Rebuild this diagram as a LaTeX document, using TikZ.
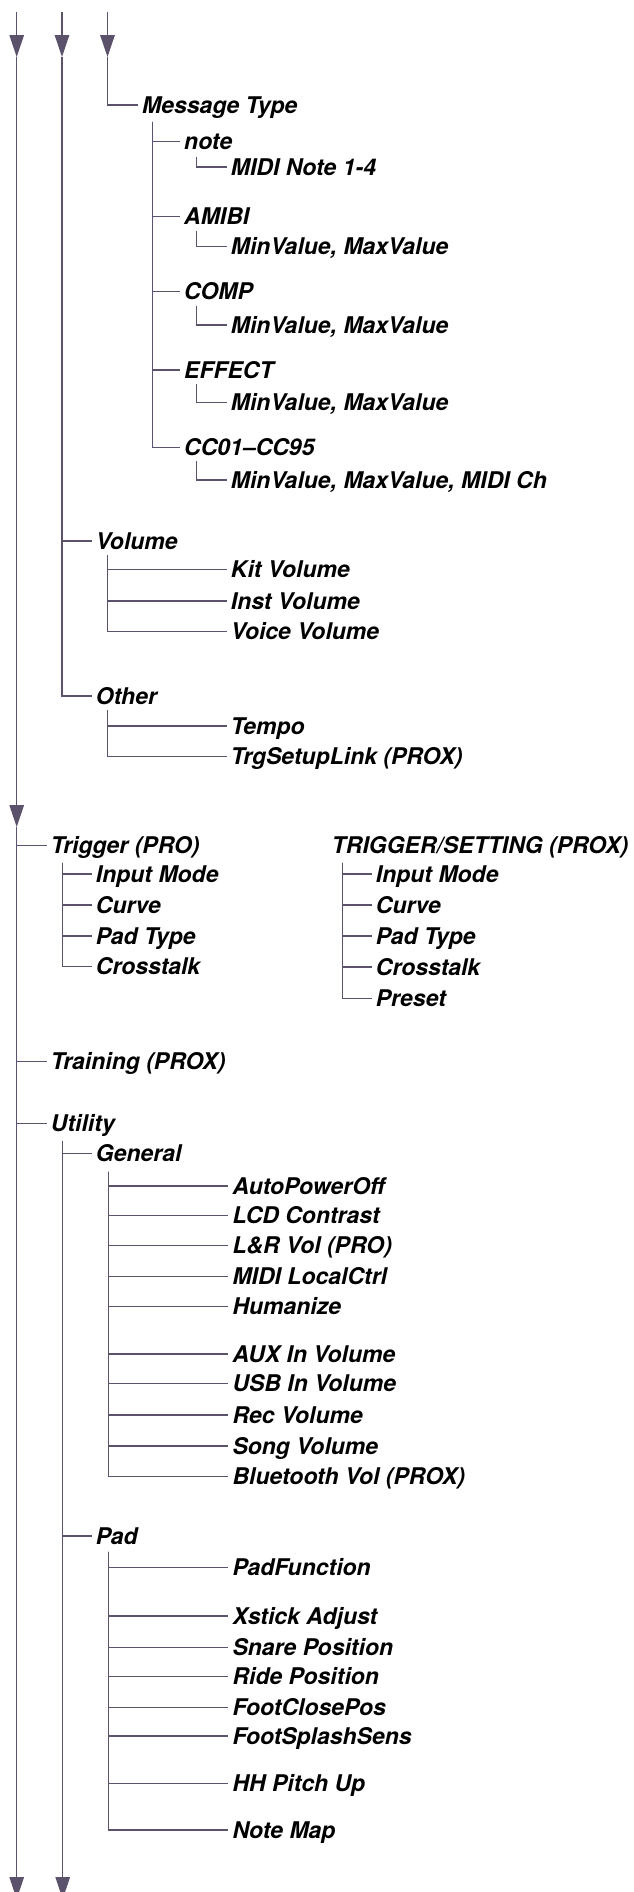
\documentclass[tikz,border=0pt]{standalone}
\usepackage{fontspec}
\setmainfont{TeX Gyre Heros}
\usetikzlibrary{arrows.meta}
\definecolor{lncol}{RGB}{92,82,108}
\tikzset{
  lbl/.style={anchor=west, inner xsep=4bp, inner ysep=0pt, text height=16.5bp, text depth=0pt,
              font=\fontsize{23bp}{27bp}\selectfont\bfseries\itshape},
  conn/.style={draw=lncol, line width=1.4bp},
  tri/.style={conn, -{Triangle[length=22bp,width=14.5bp]}}
}
\begin{document}
\begin{tikzpicture}[x=1bp,y=-1bp]
\useasboundingbox (0,0) rectangle (634,1892);

% ---------- main vertical lines with arrows ----------
\coordinate (a1s) at (16.7,12);  \coordinate (a1t) at (16.7,57);
\coordinate (a2s) at (62,12);    \coordinate (a2t) at (62,57);
\coordinate (a3s) at (107.5,12); \coordinate (a3t) at (107.5,57);
\coordinate (m1t) at (16.7,827);
\coordinate (b1t) at (16.7,1899);
\draw[tri] (a1s) -- (a1t);
\draw[tri] (a2s) -- (a2t);
\draw[tri] (a3s) -- (a3t);
\draw[tri] (a1t) -- (m1t);
\draw[tri] (m1t) -- (b1t);

% ---------- upper tree ----------
\node[lbl] (mt) at (138,105) {Message Type};
\draw[conn] (a3t) |- (mt.west);

\node[lbl] (note)   at (180,141.7) {note};
\node[lbl] (mnote)  at (226.7,167) {MIDI Note 1-4};
\node[lbl] (amibi)  at (180,216.7) {AMIBI};
\node[lbl] (mv1)    at (226.7,246.7) {MinValue, MaxValue};
\node[lbl] (comp)   at (180,291.7) {COMP};
\node[lbl] (mv2)    at (226.7,325) {MinValue, MaxValue};
\node[lbl] (effect) at (180,370) {EFFECT};
\node[lbl] (mv3)    at (226.7,402.7) {MinValue, MaxValue};
\node[lbl] (cc)     at (180,447.3) {CC01\textendash CC95};
\node[lbl] (mv4)    at (226.7,480) {MinValue, MaxValue, MIDI Ch};

\coordinate (mtv) at (152.7,121.7);
\draw[conn] (mtv) |- (note.west);
\draw[conn] (mtv) |- (amibi.west);
\draw[conn] (mtv) |- (comp.west);
\draw[conn] (mtv) |- (effect.west);
\draw[conn] (mtv) |- (cc.west);

\coordinate (nv) at (196.7,156.7);  \draw[conn] (nv) |- (mnote.west);
\coordinate (av) at (196.7,230.7);  \draw[conn] (av) |- (mv1.west);
\coordinate (cv) at (196.7,305.7);  \draw[conn] (cv) |- (mv2.west);
\coordinate (ev) at (196.7,384);    \draw[conn] (ev) |- (mv3.west);
\coordinate (ccv) at (196.7,461.3); \draw[conn] (ccv) |- (mv4.west);

\node[lbl] (vol)   at (91.7,541) {Volume};
\node[lbl] (kit)   at (226.7,569.3) {Kit Volume};
\node[lbl] (inst)  at (226.7,601) {Inst Volume};
\node[lbl] (voice) at (226.7,631.7) {Voice Volume};
\node[lbl] (other) at (91.7,696) {Other};
\node[lbl] (tempo) at (226.7,726) {Tempo};
\node[lbl] (trgl)  at (226.7,756.7) {TrgSetupLink (PROX)};

\draw[conn] (a2t) |- (vol.west);
\draw[conn] (a2t) |- (other.west);
\coordinate (vv) at (107.5,555);
\draw[conn] (vv) |- (kit.west);
\draw[conn] (vv) |- (inst.west);
\draw[conn] (vv) |- (voice.west);
\coordinate (ov) at (107.5,710);
\draw[conn] (ov) |- (tempo.west);
\draw[conn] (ov) |- (trgl.west);

% ---------- Trigger ----------
\node[lbl] (trig) at (46.7,845.7) {Trigger (PRO)};
\draw[conn] (m1t) |- (trig.west);
\node[lbl] (t1) at (91.7,874)   {Input Mode};
\node[lbl] (t2) at (91.7,905)   {Curve};
\node[lbl] (t3) at (91.7,936)   {Pad Type};
\node[lbl] (t4) at (91.7,966.7) {Crosstalk};
\coordinate (tv) at (62.7,862.7);
\foreach \n in {t1,t2,t3,t4} \draw[conn] (tv) |- (\n.west);

\node[lbl] (ts) at (327.7,845.7) {TRIGGER/SETTING (PROX)};
\node[lbl] (s1) at (371.7,874)   {Input Mode};
\node[lbl] (s2) at (371.7,905)   {Curve};
\node[lbl] (s3) at (371.7,936)   {Pad Type};
\node[lbl] (s4) at (371.7,967)   {Crosstalk};
\node[lbl] (s5) at (371.7,998.3) {Preset};
\coordinate (sv) at (342.7,862.7);
\foreach \n in {s1,s2,s3,s4,s5} \draw[conn] (sv) |- (\n.west);

% ---------- Training / Utility ----------
\node[lbl] (train) at (46.7,1061.7) {Training (PROX)};
\node[lbl] (util)  at (46.7,1123.3) {Utility};
\draw[conn] (m1t) |- (train.west);
\draw[conn] (m1t) |- (util.west);

\node[lbl] (gen) at (91.7,1153.3) {General};
\node[lbl] (pad) at (91.7,1536) {Pad};
\coordinate (uv) at (62.7,1140.7);
\coordinate (ub) at (62.7,1899);
\draw[conn] (uv) |- (gen.west);
\draw[conn] (uv) |- (pad.west);
\draw[tri] (uv) -- (ub);

\node[lbl] (g1)  at (228.3,1186)   {AutoPowerOff};
\node[lbl] (g2)  at (228.3,1215.3) {LCD Contrast};
\node[lbl] (g3)  at (228.3,1245.7) {L\&R Vol (PRO)};
\node[lbl] (g4)  at (228.3,1276.7) {MIDI LocalCtrl};
\node[lbl] (g5)  at (228.3,1306.7) {Humanize};
\node[lbl] (g6)  at (228.3,1354)   {AUX In Volume};
\node[lbl] (g7)  at (228.3,1383.3) {USB In Volume};
\node[lbl] (g8)  at (228.3,1415)   {Rec Volume};
\node[lbl] (g9)  at (228.3,1446)   {Song Volume};
\node[lbl] (g10) at (228.3,1476.7) {Bluetooth Vol (PROX)};
\coordinate (gv) at (108.3,1171.7);
\foreach \n in {g1,g2,g3,g4,g5,g6,g7,g8,g9,g10} \draw[conn] (gv) |- (\n.west);

\node[lbl] (p1) at (228.3,1567.7) {PadFunction};
\node[lbl] (p2) at (228.3,1616)   {Xstick Adjust};
\node[lbl] (p3) at (228.3,1647.3) {Snare Position};
\node[lbl] (p4) at (228.3,1676.7) {Ride Position};
\node[lbl] (p5) at (228.3,1707.3) {FootClosePos};
\node[lbl] (p6) at (228.3,1736)   {FootSplashSens};
\node[lbl] (p7) at (228.3,1783.3) {HH Pitch Up};
\node[lbl] (p8) at (228.3,1830)   {Note Map};
\coordinate (pv) at (108.3,1551.7);
\foreach \n in {p1,p2,p3,p4,p5,p6,p7,p8} \draw[conn] (pv) |- (\n.west);
\end{tikzpicture}
\end{document}
